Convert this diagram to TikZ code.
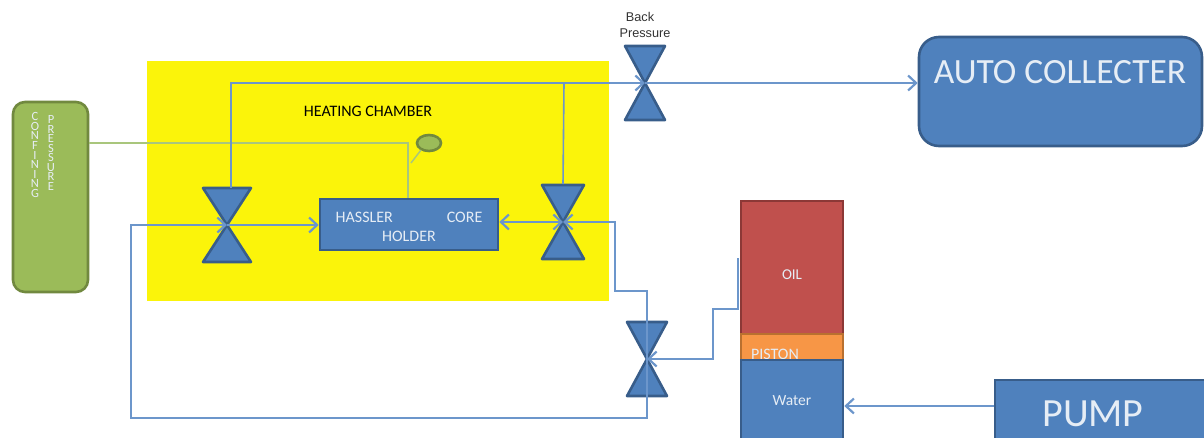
\documentclass[tikz,border=0pt]{standalone}
\usepackage{fontspec}
\setmainfont{Carlito}
\newfontfamily\labelfont{Liberation Sans}
\usetikzlibrary{arrows.meta,shapes.geometric}
\definecolor{chamber}{HTML}{FBF40A}
\definecolor{bluefill}{HTML}{4F81BD}
\definecolor{blueedge}{HTML}{385D8A}
\definecolor{pipeblue}{HTML}{6C96CB}
\definecolor{greenfill}{HTML}{9BBB59}
\definecolor{greenedge}{HTML}{71893F}
\definecolor{greenpipe}{HTML}{A9C67C}
\definecolor{redfill}{HTML}{C0504D}
\definecolor{rededge}{HTML}{8C3836}
\definecolor{orangefill}{HTML}{F79646}
\definecolor{orangeedge}{HTML}{B9702F}
\definecolor{lighttext}{HTML}{E6EDF5}
\tikzset{
  box/.style={rectangle,draw=blueedge,fill=bluefill,line width=2.6pt,inner sep=0pt,text=lighttext},
  valve/.style={draw=blueedge,fill=bluefill,line width=2.6pt,line join=round},
  pipe/.style={draw=pipeblue,line width=1.6pt,>={Straight Barb[length=8pt,width=15pt,line width=2.2pt]}},
  word/.style={inner sep=0pt,text=lighttext,font=\fontsize{16}{19}\selectfont,align=center}
}
\begin{document}
\begin{tikzpicture}[x=1pt,y=-1pt]
\useasboundingbox (0,0) rectangle (1204,437);
\clip (0,0) rectangle (1204,437);

% heating chamber and supply
\fill[chamber] (147,61) rectangle (609,301);
\node[box,draw=greenedge,fill=greenfill,rounded corners=12pt,minimum width=75pt,minimum height=190pt] (confining) at (50.5,197) {};
\node[word,font=\fontsize{12.5}{9.55}\selectfont] (confiningtext) at (35,155) {C\\O\\N\\F\\I\\N\\I\\N\\G};
\node[word,font=\fontsize{12.5}{9.55}\selectfont] (pressuretext) at (51,153) {P\\R\\E\\S\\S\\U\\R\\E};
\node[inner sep=0pt,font=\fontsize{16}{19}\selectfont] (chambertext) at (368,111) {HEATING CHAMBER};

% core holder
\node[box,minimum width=178pt,minimum height=51pt] (holder) at (409,224.5) {};
\node[word] (holdertext) at (409,227) {HASSLER\hspace{54pt}CORE\\HOLDER};

% right hand boxes
\node[box,rounded corners=20pt,minimum width=283pt,minimum height=109pt] (collector) at (1060.5,91.5) {};
\node[word,font=\fontsize{35.5}{38}\selectfont] (collectortext) at (1060,72) {AUTO COLLECTER};
\node[box,draw=rededge,fill=redfill,minimum width=102pt,minimum height=133pt] (oil) at (792,267.5) {};
\node[word,font=\fontsize{15}{18}\selectfont] (oiltext) at (792,275) {OIL};
\node[box,draw=orangeedge,fill=orangefill,minimum width=102pt,minimum height=26pt] (piston) at (792,347) {};
\node[word] (pistontext) at (775,354) {PISTON};
\node[box,minimum width=102pt,minimum height=90pt] (water) at (792,405) {};
\node[word,font=\fontsize{15.5}{18}\selectfont] (watertext) at (792,401) {Water};
\node[box,minimum width=220pt,minimum height=70pt] (pump) at (1105,415) {};
\node[word,font=\fontsize{40}{44}\selectfont] (pumptext) at (1093,414) {PUMP};
\node[inner sep=0pt,align=center,text=black!80,font=\labelfont\fontsize{12.7}{16}\selectfont] (backtext) at (645,25) {Back\hspace*{10pt}\\Pressure};

% valves
\foreach \name/\x/\y/\w/\h in {leftvalve/227/225/24/37,rightvalve/563/222/21/37,backvalve/645/83/20/37,lowvalve/647/359/20/37}{
  \draw[valve] (\x-\w,\y-\h) -- (\x+\w,\y-\h) -- (\x-\w,\y+\h) -- (\x+\w,\y+\h) -- cycle;
  \coordinate (\name) at (\x,\y);
}

% confining line and thermocouple
\coordinate (confinebend) at (408,143);
\draw[greenpipe,line width=1.5pt] (confining.east |- confinebend) -- (confinebend) -- (confinebend |- holder.north);
\coordinate (bubbletail) at (411,163);
\node[ellipse,draw=greenedge,fill=greenfill,line width=2.6pt,minimum width=24pt,minimum height=16pt,inner sep=0pt] (bubble) at (429,143) {};
\draw[greenpipe,line width=1.5pt] (bubble) ++(-8,7) -- (bubbletail);

% flow lines
\coordinate (topleft) at (231,83);
\coordinate (topjoin) at (564,83);
\coordinate (lowbend) at (615,291);
\coordinate (feedbend) at (131,418);
\coordinate (oilport) at (738,258);
\coordinate (oilbend) at (713,309);
\draw[pipe,->] (231,188) -- (topleft) -- (backvalve);
\draw[pipe] (topjoin) -- (rightvalve.north |- 0,184);
\draw[pipe,->] (backvalve) -- (backvalve -| collector.west);
\draw[pipe,->] (lowvalve) -- (lowvalve |- feedbend) -- (feedbend) -- (feedbend |- leftvalve) -- (leftvalve);
\draw[pipe,->] (leftvalve) -- (leftvalve -| holder.west);
\draw[pipe,<->] (holder.east |- rightvalve) -- (rightvalve);
\draw[pipe,->] (lowvalve) -- (lowvalve |- lowbend) -- (lowbend) -- (lowbend |- rightvalve) -- (rightvalve);
\draw[pipe,->] (oilport) -- (oilport |- oilbend) -- (oilbend) -- (oilbend |- lowvalve) -- (lowvalve);
\coordinate (pumpport) at (pump.west |- 0,406);
\draw[pipe,->] (pumpport) -- (water.east |- pumpport);
\end{tikzpicture}
\end{document}
